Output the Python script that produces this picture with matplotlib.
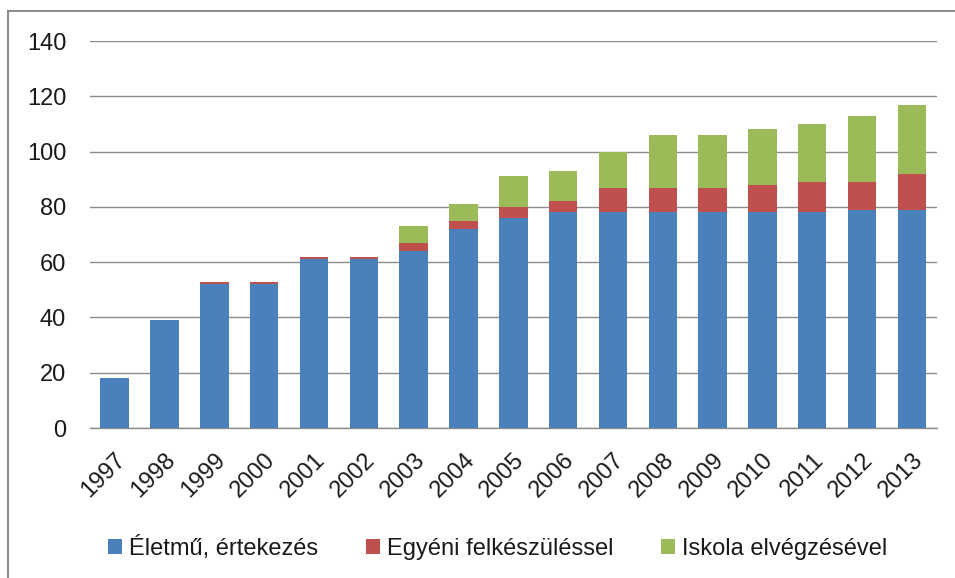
import numpy as np
import matplotlib.pyplot as plt
from matplotlib.lines import Line2D

plt.rcParams["font.family"] = ["Liberation Sans", "DejaVu Sans"]

evek = [str(y) for y in range(1997, 2014)]
eletmu = [18, 39, 52, 52, 61, 61, 64, 72, 76, 78, 78, 78, 78, 78, 78, 79, 79]
egyeni = [0, 0, 1, 1, 1, 1, 3, 3, 4, 4, 9, 9, 9, 10, 11, 10, 13]
iskola = [0, 0, 0, 0, 0, 0, 6, 6, 11, 11, 13, 19, 19, 20, 21, 24, 25]
sorozatok = ["Életmű, értekezés", "Egyéni felkészüléssel", "Iskola elvégzésével"]
szinek = ["#4a81bd", "#c0504d", "#9bbb59"]

fig = plt.figure(figsize=(9.55, 5.78), dpi=100)
ax = fig.add_axes([0.094, 0.2595, 0.887, 0.6695])

x = np.arange(len(evek))
w = 0.57
a = np.array(eletmu)
b = np.array(egyeni)
c = np.array(iskola)
ax.bar(x, a, w, color=szinek[0], label=sorozatok[0], zorder=3)
ax.bar(x, b, w, bottom=a, color=szinek[1], label=sorozatok[1], zorder=3)
ax.bar(x, c, w, bottom=a + b, color=szinek[2], label=sorozatok[2], zorder=3)

ax.set_xlim(-0.5, len(evek) - 0.5)
ax.set_ylim(0, 140)
ax.set_yticks(range(0, 141, 20))
ax.yaxis.grid(True, color="#8c8c8c", linewidth=1, zorder=0)
for s in ["top", "right", "left"]:
    ax.spines[s].set_visible(False)
ax.spines["bottom"].set_color("#8c8c8c")
ax.spines["bottom"].set_linewidth(1)
ax.tick_params(axis="both", length=0, labelsize=17, labelcolor="#1a1a1a")
ax.set_xticks(x)
ax.set_xticklabels(evek, rotation=45, ha="right", va="top", rotation_mode="anchor")
ax.tick_params(axis="x", pad=15)
ax.tick_params(axis="y", pad=17)

ax.legend(loc="center", bbox_to_anchor=(0.521, 0.052), bbox_transform=fig.transFigure,
          ncol=3, frameon=False, fontsize=17, handlelength=0.6, handleheight=0.6,
          columnspacing=2.0, handletextpad=0.3, labelcolor="#1a1a1a")

# keret (bal és felső él)
fig.add_artist(Line2D([8 / 955, 8 / 955], [0, 1 - 11 / 578], color="#8c8c8c", lw=1.5))
fig.add_artist(Line2D([8 / 955, 1], [1 - 11 / 578, 1 - 11 / 578], color="#8c8c8c", lw=1.5))

fig.savefig("out.png", dpi=100)
